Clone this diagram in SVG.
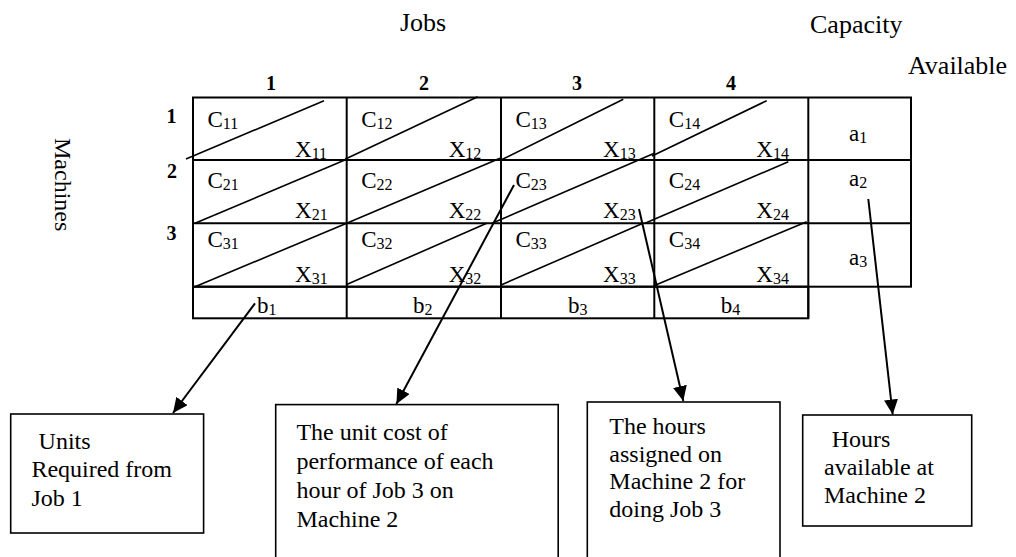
<svg xmlns="http://www.w3.org/2000/svg" width="1016" height="557" viewBox="0 0 1016 557">
<defs>
<marker id="ah" markerUnits="userSpaceOnUse" markerWidth="16" markerHeight="14" refX="15" refY="7" orient="auto">
<path d="M0,0 L15,7 L0,14 z" fill="#000"/>
</marker>
<style>
text{font-family:"Liberation Serif","Times New Roman",serif;fill:#000}
.hd{font-size:26px}
.bn{font-size:20px;font-weight:bold;text-anchor:middle}
.cx{font-size:23px}
.sub{font-size:16px}
.bx{font-size:24px}
.tl{stroke:#000;stroke-width:2;fill:none}
.dg{stroke:#000;stroke-width:1.6;fill:none}
.box{stroke:#000;stroke-width:1.6;fill:#fff}
.ar{stroke:#000;stroke-width:2;fill:none;marker-end:url(#ah)}
</style>
</defs>
<rect width="1016" height="557" fill="#fff"/>

<g id="headers">
<text class="hd" x="400" y="31">Jobs</text>
<text class="hd" x="810" y="33">Capacity</text>
<text class="hd" x="908" y="74">Available</text>
<text class="hd" transform="translate(55,138) rotate(90)" style="font-size:24px">Machines</text>
<text class="bn" x="271" y="90">1</text>
<text class="bn" x="424" y="90">2</text>
<text class="bn" x="577" y="90">3</text>
<text class="bn" x="731" y="90">4</text>
<text class="bn" x="171.5" y="123">1</text>
<text class="bn" x="172" y="178">2</text>
<text class="bn" x="171.5" y="240">3</text>
</g>

<g id="table">
<rect class="tl" x="193" y="97.5" width="718" height="189.2"/>
<rect class="tl" x="193" y="286.7" width="615.3" height="31.6"/>
<line class="tl" x1="193" y1="160" x2="911" y2="160"/>
<line class="tl" x1="193" y1="223.3" x2="911" y2="223.3"/>
<line class="tl" x1="346.7" y1="97.5" x2="346.7" y2="318.3"/>
<line class="tl" x1="501" y1="97.5" x2="501" y2="318.3"/>
<line class="tl" x1="654.3" y1="97.5" x2="654.3" y2="318.3"/>
<line class="tl" x1="808.3" y1="97.5" x2="808.3" y2="318.3"/>
</g>

<g id="diagonals">
<line class="dg" x1="186" y1="159" x2="324" y2="100.7"/>
<line class="dg" x1="345" y1="159.3" x2="477.7" y2="96.7"/>
<line class="dg" x1="501" y1="160" x2="623.3" y2="99.3"/>
<line class="dg" x1="652" y1="156" x2="766.7" y2="100.7"/>
<line class="dg" x1="195" y1="223.3" x2="346.7" y2="159.3"/>
<line class="dg" x1="346.7" y1="223.3" x2="500" y2="158.3"/>
<line class="dg" x1="492" y1="223.3" x2="654.3" y2="153.3"/>
<line class="dg" x1="645" y1="223.3" x2="788.3" y2="161.7"/>
<line class="dg" x1="195" y1="286.7" x2="346.7" y2="223.3"/>
<line class="dg" x1="346.7" y1="284.5" x2="486.7" y2="223.3"/>
<line class="dg" x1="501" y1="285" x2="643" y2="223.3"/>
<line class="dg" x1="653.3" y1="286" x2="806.7" y2="221.7"/>
</g>

<g id="cells">
<text class="cx" x="207.5" y="126.5">C<tspan class="sub" dy="2">11</tspan></text>
<text class="cx" x="361.2" y="126.5">C<tspan class="sub" dy="2">12</tspan></text>
<text class="cx" x="515.5" y="126.5">C<tspan class="sub" dy="2">13</tspan></text>
<text class="cx" x="668.8" y="126.5">C<tspan class="sub" dy="2">14</tspan></text>
<text class="cx" x="295" y="157">X<tspan class="sub" dy="2">11</tspan></text>
<text class="cx" x="448.7" y="157">X<tspan class="sub" dy="2">12</tspan></text>
<text class="cx" x="603" y="157">X<tspan class="sub" dy="2">13</tspan></text>
<text class="cx" x="756.3" y="157">X<tspan class="sub" dy="2">14</tspan></text>
<text class="cx" x="207.5" y="188">C<tspan class="sub" dy="2">21</tspan></text>
<text class="cx" x="361.2" y="188">C<tspan class="sub" dy="2">22</tspan></text>
<text class="cx" x="515.5" y="188">C<tspan class="sub" dy="2">23</tspan></text>
<text class="cx" x="668.8" y="188">C<tspan class="sub" dy="2">24</tspan></text>
<text class="cx" x="295" y="218">X<tspan class="sub" dy="2">21</tspan></text>
<text class="cx" x="448.7" y="218">X<tspan class="sub" dy="2">22</tspan></text>
<text class="cx" x="603" y="218">X<tspan class="sub" dy="2">23</tspan></text>
<text class="cx" x="756.3" y="218">X<tspan class="sub" dy="2">24</tspan></text>
<text class="cx" x="207.5" y="246.5">C<tspan class="sub" dy="2">31</tspan></text>
<text class="cx" x="361.2" y="246.5">C<tspan class="sub" dy="2">32</tspan></text>
<text class="cx" x="515.5" y="246.5">C<tspan class="sub" dy="2">33</tspan></text>
<text class="cx" x="668.8" y="246.5">C<tspan class="sub" dy="2">34</tspan></text>
<text class="cx" x="295" y="281.5">X<tspan class="sub" dy="2">31</tspan></text>
<text class="cx" x="448.7" y="281.5">X<tspan class="sub" dy="2">32</tspan></text>
<text class="cx" x="603" y="281.5">X<tspan class="sub" dy="2">33</tspan></text>
<text class="cx" x="756.3" y="281.5">X<tspan class="sub" dy="2">34</tspan></text>
<text class="cx" x="849" y="141">a<tspan class="sub" dy="2">1</tspan></text>
<text class="cx" x="849" y="186">a<tspan class="sub" dy="2">2</tspan></text>
<text class="cx" x="849" y="265">a<tspan class="sub" dy="2">3</tspan></text>
<text class="cx" x="257" y="313">b<tspan class="sub" dy="2">1</tspan></text>
<text class="cx" x="413" y="313">b<tspan class="sub" dy="2">2</tspan></text>
<text class="cx" x="568" y="313">b<tspan class="sub" dy="2">3</tspan></text>
<text class="cx" x="720.7" y="313">b<tspan class="sub" dy="2">4</tspan></text>
</g>

<g id="box1">
<rect class="box" x="10.7" y="414" width="192.9" height="119"/>
<text class="bx" x="38.6" y="448.6">Units</text>
<text class="bx" x="31.4" y="477">Required from</text>
<text class="bx" x="31.4" y="506">Job 1</text>
</g>
<g id="box2">
<rect class="box" x="275.7" y="404.6" width="282.5" height="160"/>
<text class="bx" x="296.4" y="440">The unit cost of</text>
<text class="bx" x="296.4" y="469">performance of each</text>
<text class="bx" x="296.4" y="498">hour of Job 3 on</text>
<text class="bx" x="296.4" y="527">Machine 2</text>
</g>
<g id="box3">
<rect class="box" x="587.3" y="402" width="192.7" height="165"/>
<text class="bx" x="609.3" y="434">The hours</text>
<text class="bx" x="609.3" y="461.7">assigned on</text>
<text class="bx" x="609.3" y="489">Machine 2 for</text>
<text class="bx" x="609.3" y="516.7">doing Job 3</text>
</g>
<g id="box4">
<rect class="box" x="802.7" y="415" width="169" height="111"/>
<text class="bx" x="831.7" y="447.3">Hours</text>
<text class="bx" x="824" y="475">available at</text>
<text class="bx" x="824" y="503.3">Machine 2</text>
</g>

<g id="connectors">
<line class="ar" x1="255" y1="303.3" x2="173" y2="413"/>
<line class="ar" x1="514" y1="185" x2="396.4" y2="404"/>
<line class="ar" x1="639" y1="209" x2="683.3" y2="401"/>
<line class="ar" x1="868.3" y1="199" x2="892.7" y2="414.5"/>
</g>
</svg>
